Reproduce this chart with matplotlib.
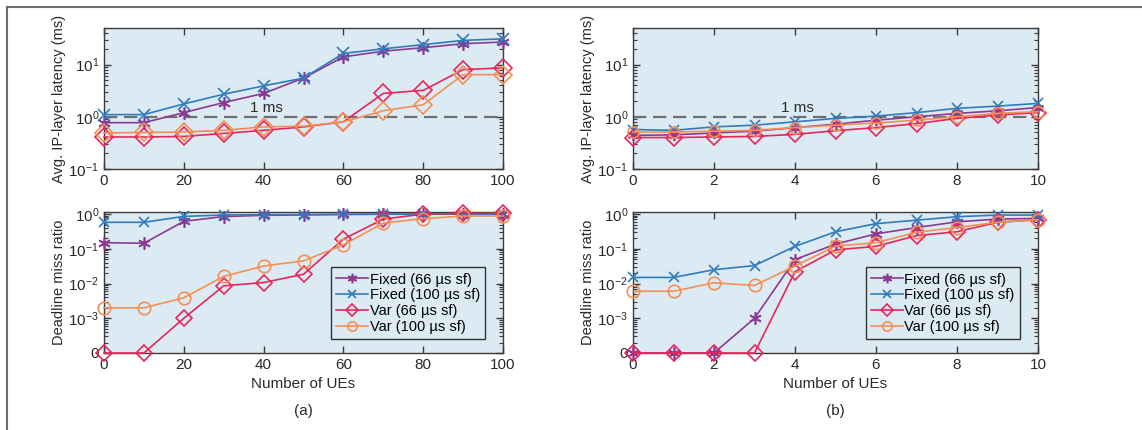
import numpy as np
import matplotlib
matplotlib.use("Agg")
import matplotlib.pyplot as plt
from matplotlib.lines import Line2D
from matplotlib.ticker import LogLocator, NullFormatter, FixedLocator, FixedFormatter

plt.rcParams['font.family'] = ['Liberation Sans', 'DejaVu Sans']
plt.rcParams['mathtext.fontset'] = 'custom'
plt.rcParams['mathtext.rm'] = 'Liberation Sans'
plt.rcParams['mathtext.it'] = 'Liberation Sans'
plt.rcParams['mathtext.default'] = 'regular'

# ---------------- data ----------------
x_a = [0, 10, 20, 30, 40, 50, 60, 70, 80, 90, 100]
x_b = [0, 1, 2, 3, 4, 5, 6, 7, 8, 9, 10]

series_labels = ["Fixed (66 \u00b5s sf)", "Fixed (100 \u00b5s sf)", "Var (66 \u00b5s sf)", "Var (100 \u00b5s sf)"]

# (a) latency (ms)
lat_a_fixed66 = [0.77, 0.77, 1.2, 1.87, 2.8, 5.5, 14, 18, 21, 25, 27]
lat_a_fixed100 = [1.1, 1.1, 1.76, 2.7, 3.9, 5.5, 16.3, 20, 24, 29, 31]
lat_a_var66 = [0.41, 0.41, 0.42, 0.48, 0.55, 0.64, 0.8, 2.8, 3.2, 8.0, 8.6]
lat_a_var100 = [0.49, 0.5, 0.51, 0.55, 0.64, 0.66, 0.8, 1.3, 1.7, 6.4, 6.4]

# (a) deadline miss ratio
dmr_a_fixed66 = [0.15, 0.145, 0.62, 0.85, 0.92, 0.95, 0.98, 1.0, 1.0, 1.0, 1.0]
dmr_a_fixed100 = [0.58, 0.58, 0.86, 0.94, 0.96, 0.97, 0.98, 0.99, 1.0, 1.0, 1.0]
dmr_a_var66 = [0, 0, 0.001, 0.0086, 0.0107, 0.0185, 0.19, 0.72, 1.0, 1.05, 1.05]
dmr_a_var100 = [0.002, 0.002, 0.0039, 0.016, 0.032, 0.045, 0.13, 0.55, 0.74, 0.88, 0.88]

# (b) latency (ms)
lat_b_fixed66 = [0.44, 0.45, 0.49, 0.53, 0.62, 0.72, 0.86, 1.0, 1.16, 1.3, 1.5]
lat_b_fixed100 = [0.57, 0.55, 0.64, 0.69, 0.8, 0.93, 1.03, 1.2, 1.45, 1.6, 1.8]
lat_b_var66 = [0.40, 0.40, 0.41, 0.42, 0.46, 0.54, 0.62, 0.74, 0.93, 1.08, 1.2]
lat_b_var100 = [0.51, 0.51, 0.53, 0.55, 0.62, 0.69, 0.76, 0.86, 1.0, 1.16, 1.25]

# (b) deadline miss ratio
dmr_b_fixed66 = [0, 0, 0, 0.001, 0.049, 0.137, 0.27, 0.41, 0.6, 0.72, 0.75]
dmr_b_fixed100 = [0.015, 0.015, 0.025, 0.033, 0.118, 0.31, 0.53, 0.67, 0.84, 0.94, 0.94]
dmr_b_var66 = [0, 0, 0, 0, 0.022, 0.093, 0.118, 0.24, 0.31, 0.58, 0.69]
dmr_b_var100 = [0.006, 0.006, 0.0105, 0.0088, 0.032, 0.12, 0.15, 0.3, 0.41, 0.58, 0.69]

lat_ticks = [0.1, 1, 10]
lat_ticklabels = ["$10^{-1}$", "$10^{0}$", "$10^{1}$"]
dmr_ticks = [1e-4, 1e-3, 1e-2, 1e-1, 1]
dmr_ticklabels = ["0", "$10^{-3}$", "$10^{-2}$", "$10^{-1}$", "$10^{0}$"]
ZERO_POS = 1e-4

# ---------------- style ----------------
C_PURPLE = "#8b3a94"
C_BLUE = "#2f7bbd"
C_RED = "#e8265c"
C_ORANGE = "#f58f55"
BG = "#dcebf3"
SPINE = "#3a3a3a"
TXT = "#2a2a2a"
ASTER = (6, 2, 0)

W, H = 1142, 430
fig = plt.figure(figsize=(W / 100, H / 100), dpi=100)

def px_axes(x0, y0, x1, y1):
    return fig.add_axes([x0 / W, 1 - y1 / H, (x1 - x0) / W, (y1 - y0) / H])

ax_a_top = px_axes(104, 28, 503, 169)
ax_a_bot = px_axes(104, 212, 503, 353)
ax_b_top = px_axes(633, 28, 1038, 169)
ax_b_bot = px_axes(633, 212, 1038, 353)


def style_axes(ax, xlim, xticks):
    ax.set_facecolor(BG)
    ax.set_yscale("log")
    ax.set_xlim(*xlim)
    ax.set_xticks(xticks)
    for s in ax.spines.values():
        s.set_color(SPINE)
        s.set_linewidth(1.0)
    ax.tick_params(which="both", direction="in", top=True, right=True, colors=SPINE,
                   labelcolor=TXT, labelsize=11)
    ax.tick_params(which="major", length=5, width=1.0)
    ax.tick_params(which="minor", length=3, width=0.8)
    ax.tick_params(axis="x", which="minor", top=False, bottom=False)


def plot_series(ax, x, ys, markers, sizes, zero_floor=False):
    colors = [C_PURPLE, C_BLUE, C_RED, C_ORANGE]
    for y, m, ms, c, lab in zip(ys, markers, sizes, colors, series_labels):
        yy = np.array(y, dtype=float)
        if zero_floor:
            yy = np.where(yy <= 0, ZERO_POS, yy)
        ax.plot(x, yy, color=c, lw=1.2, marker=m, ms=ms, mfc="none", mec=c,
                mew=1.2, clip_on=False, label=lab, zorder=3)


def top_panel(ax, x, ys, markers, sizes, xlim, xticks, text_x, label_x):
    style_axes(ax, xlim, xticks)
    ax.axhline(1.0, color="#707070", lw=1.6, ls=(0, (6, 3)), zorder=2)
    plot_series(ax, x, ys, markers, sizes)
    ax.set_ylim(0.1, 50)
    ax.yaxis.set_major_locator(FixedLocator(lat_ticks))
    ax.yaxis.set_major_formatter(FixedFormatter(lat_ticklabels))
    ax.yaxis.set_minor_locator(LogLocator(base=10, subs=np.arange(2, 10), numticks=20))
    ax.yaxis.set_minor_formatter(NullFormatter())
    ax.set_ylabel("Avg. IP-layer latency (ms)", fontsize=10.5, color=TXT)
    ax.yaxis.set_label_coords(label_x, 0.5)
    ax.text(text_x, 1.08, "1 ms", fontsize=11, color=TXT, ha="left", va="bottom")


def bot_panel(ax, x, ys, markers, sizes, xlim, xticks, letter, label_x):
    style_axes(ax, xlim, xticks)
    plot_series(ax, x, ys, markers, sizes, zero_floor=True)
    ax.set_ylim(ZERO_POS, 1.15)
    ax.yaxis.set_major_locator(FixedLocator(dmr_ticks))
    ax.yaxis.set_major_formatter(FixedFormatter(dmr_ticklabels))
    minors = [m * 10.0 ** e for e in (-4, -3, -2, -1) for m in range(2, 10)]
    ax.yaxis.set_minor_locator(FixedLocator(minors))
    ax.yaxis.set_minor_formatter(NullFormatter())
    ax.set_ylabel("Deadline miss ratio", fontsize=10.5, color=TXT)
    ax.yaxis.set_label_coords(label_x, 0.5)
    ax.set_xlabel("Number of UEs", fontsize=11, color=TXT, labelpad=4)
    leg = ax.legend(loc="lower right", bbox_to_anchor=(0.955, 0.1), fontsize=10.5,
                    frameon=True, fancybox=False, handlelength=2.2, handletextpad=0.1,
                    borderpad=0.35, labelspacing=0.12, borderaxespad=0, markerscale=0.75)
    leg.get_frame().set_edgecolor("#333333")
    leg.get_frame().set_facecolor(BG)
    leg.get_frame().set_alpha(1)
    leg.get_frame().set_linewidth(1.0)
    ax.text(0.5, -0.36, letter, transform=ax.transAxes, ha="center", va="top",
            fontsize=11, color=TXT)


top_panel(ax_a_top, x_a, [lat_a_fixed66, lat_a_fixed100, lat_a_var66, lat_a_var100],
          [ASTER, "x", "D", "D"], [9, 8, 9, 9], (0, 100), [0, 20, 40, 60, 80, 100], 36.5, -0.095)
bot_panel(ax_a_bot, x_a, [dmr_a_fixed66, dmr_a_fixed100, dmr_a_var66, dmr_a_var100],
          [ASTER, "x", "D", "o"], [9, 7, 8, 9], (0, 100), [0, 20, 40, 60, 80, 100], "(a)", -0.095)
top_panel(ax_b_top, x_b, [lat_b_fixed66, lat_b_fixed100, lat_b_var66, lat_b_var100],
          [ASTER, "x", "D", "o"], [8, 7, 8, 8], (0, 10), [0, 2, 4, 6, 8, 10], 3.65, -0.094)
bot_panel(ax_b_bot, x_b, [dmr_b_fixed66, dmr_b_fixed100, dmr_b_var66, dmr_b_var100],
          [ASTER, "x", "D", "o"], [9, 7, 8, 9], (0, 10), [0, 2, 4, 6, 8, 10], "(b)", -0.094)

# figure frame (top and left edges)
fig.add_artist(Line2D([7 / W, 1], [1 - 7 / H, 1 - 7 / H], transform=fig.transFigure,
                      color="#6e6e6e", lw=1.5))
fig.add_artist(Line2D([7 / W, 7 / W], [0, 1 - 7 / H], transform=fig.transFigure,
                      color="#6e6e6e", lw=1.5))

fig.savefig("out.png", dpi=100, facecolor="white")
